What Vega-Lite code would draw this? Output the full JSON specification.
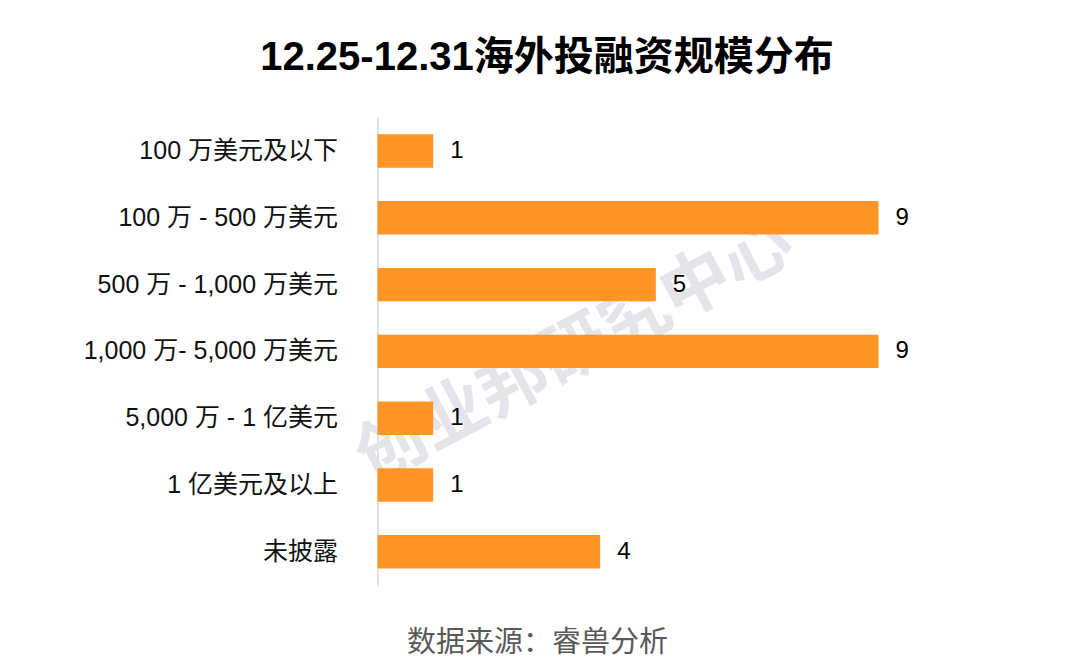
{
  "$schema": "https://vega.github.io/schema/vega-lite/v6.json",
  "autosize": "none",
  "width": 501,
  "height": 467.6,
  "padding": {"left": 377.5, "top": 117.6, "right": 201.5, "bottom": 82.8},
  "background": "#ffffff",
  "title": {
    "text": "12.25-12.31海外投融资规模分布",
    "font": "Liberation Sans, Noto Sans CJK SC",
    "fontSize": 40,
    "fontWeight": "bold",
    "color": "#000000",
    "anchor": "middle",
    "baseline": "middle",
    "dx": -81,
    "offset": 20
  },
  "datasets": {
    "bars": [
      {"cat": "100 万美元及以下", "v": 1},
      {"cat": "100 万 - 500 万美元", "v": 9},
      {"cat": "500 万 - 1,000 万美元", "v": 5},
      {"cat": "1,000 万- 5,000 万美元", "v": 9},
      {"cat": "5,000 万 - 1 亿美元", "v": 1},
      {"cat": "1 亿美元及以上", "v": 1},
      {"cat": "未披露", "v": 4}
    ],
    "wmk": [
      {"wm": "创业邦研究中心", "cat": "1,000 万- 5,000 万美元", "v": 3.55}
    ]
  },
  "data": {"name": "bars"},
  "encoding": {
    "y": {
      "field": "cat",
      "type": "nominal",
      "sort": null,
      "scale": {
        "domain": ["100 万美元及以下", "100 万 - 500 万美元", "500 万 - 1,000 万美元", "1,000 万- 5,000 万美元", "5,000 万 - 1 亿美元", "1 亿美元及以上", "未披露"],
        "paddingInner": 0.5,
        "paddingOuter": 0.25
      },
      "axis": {
        "title": null,
        "domainColor": "#d9d9d9",
        "domainWidth": 1.5,
        "ticks": false,
        "tickSize": 0,
        "labelFont": "Liberation Sans, Noto Sans CJK SC",
        "labelFontSize": 25,
        "labelColor": "#111111",
        "labelPadding": 40,
        "labelLimit": 400
      }
    },
    "x": {
      "field": "v",
      "type": "quantitative",
      "scale": {"domain": [0, 9], "nice": false, "zero": true},
      "axis": {
        "domain": false,
        "ticks": false,
        "labels": false,
        "grid": false,
        "title": "数据来源：睿兽分析",
        "titleFont": "Noto Sans CJK SC",
        "titleFontSize": 29,
        "titleFontWeight": "normal",
        "titleColor": "#595959",
        "titleAlign": "center",
        "titleBaseline": "middle",
        "titleX": 159.5,
        "titleY": 57
      }
    }
  },
  "layer": [
    {
      "data": {"name": "wmk"},
      "mark": {
        "type": "text",
        "font": "Noto Sans CJK SC",
        "fontWeight": "bold",
        "fontSize": 69,
        "angle": 332,
        "align": "center",
        "baseline": "middle",
        "fill": "#e4e4ea"
      },
      "encoding": {
        "text": {"field": "wm", "type": "nominal"}
      }
    },
    {
      "mark": {"type": "bar", "color": "#fe9526"}
    },
    {
      "mark": {
        "type": "text",
        "align": "left",
        "baseline": "middle",
        "dx": 17,
        "font": "Liberation Sans",
        "fontSize": 24,
        "color": "#000000"
      },
      "encoding": {"text": {"field": "v", "type": "quantitative"}}
    }
  ],
  "config": {"view": {"stroke": null}}
}
